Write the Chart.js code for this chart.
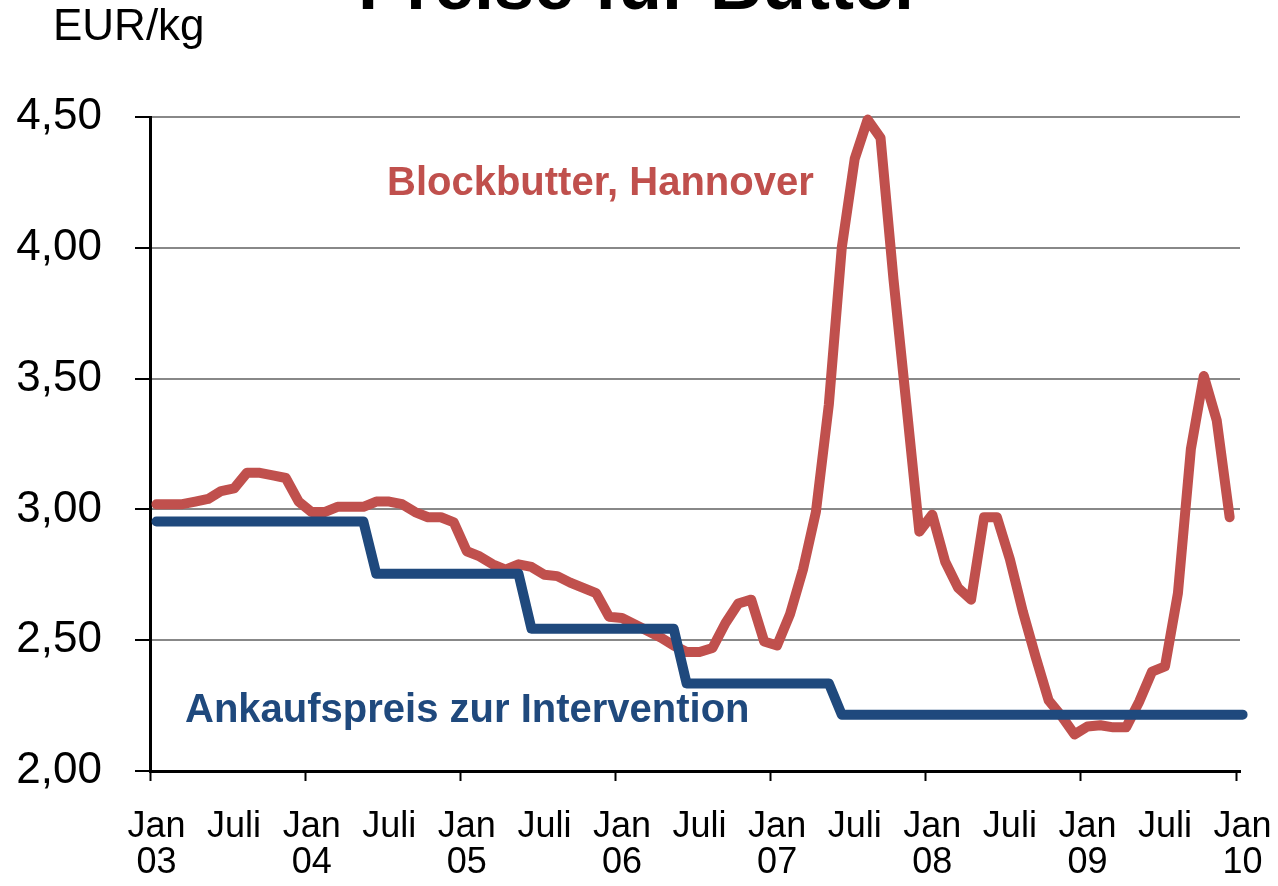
<!DOCTYPE html>
<html>
<head>
<meta charset="utf-8">
<title>Preise für Butter</title>
<script src="https://cdn.jsdelivr.net/npm/chart.js@4/dist/chart.umd.min.js"></script>
<style>
  body { margin: 0; background: #fff; }
  #wrap { width: 1278px; height: 886px; }
</style>
</head>
<body>
<div id="wrap"><canvas id="butterChart" width="1278" height="886"></canvas></div>
<script>
// monthly prices, Jan 03 .. Dec 09 (EUR/kg)
var blockbutter = [
  3.02, 3.02, 3.02, 3.03, 3.04, 3.07, 3.08, 3.14, 3.14, 3.13, 3.12, 3.03,
  2.99, 2.99, 3.01, 3.01, 3.01, 3.03, 3.03, 3.02, 2.99, 2.97, 2.97, 2.95,
  2.84, 2.82, 2.79, 2.77, 2.79, 2.78, 2.75, 2.745, 2.72, 2.70, 2.68, 2.59,
  2.585, 2.56, 2.535, 2.51, 2.48, 2.455, 2.455, 2.47, 2.565, 2.64, 2.655, 2.495,
  2.48, 2.60, 2.77, 2.99, 3.40, 4.00, 4.34, 4.49, 4.42, 3.88, 3.40, 2.915,
  2.98, 2.80, 2.70, 2.655, 2.97, 2.97, 2.81, 2.61, 2.435, 2.27, 2.21, 2.14,
  2.17, 2.175, 2.167, 2.167, 2.265, 2.38, 2.40, 2.68, 3.23, 3.51, 3.34, 2.97
];
// Jan 03 .. Jan 10
var intervention = [
  2.9537, 2.9537, 2.9537, 2.9537, 2.9537, 2.9537, 2.9537, 2.9537, 2.9537, 2.9537, 2.9537, 2.9537,
  2.9537, 2.9537, 2.9537, 2.9537, 2.9537, 2.7537, 2.7537, 2.7537, 2.7537, 2.7537, 2.7537, 2.7537,
  2.7537, 2.7537, 2.7537, 2.7537, 2.7537, 2.5442, 2.5442, 2.5442, 2.5442, 2.5442, 2.5442, 2.5442,
  2.5442, 2.5442, 2.5442, 2.5442, 2.5442, 2.3348, 2.3348, 2.3348, 2.3348, 2.3348, 2.3348, 2.3348,
  2.3348, 2.3348, 2.3348, 2.3348, 2.3348, 2.2155, 2.2155, 2.2155, 2.2155, 2.2155, 2.2155, 2.2155,
  2.2155, 2.2155, 2.2155, 2.2155, 2.2155, 2.2155, 2.2155, 2.2155, 2.2155, 2.2155, 2.2155, 2.2155,
  2.2155, 2.2155, 2.2155, 2.2155, 2.2155, 2.2155, 2.2155, 2.2155, 2.2155, 2.2155, 2.2155, 2.2155,
  2.2155
];
// one label every 6 months
var xTickLabels = [
  ["Jan", "03"], ["Juli", ""], ["Jan", "04"], ["Juli", ""], ["Jan", "05"], ["Juli", ""],
  ["Jan", "06"], ["Juli", ""], ["Jan", "07"], ["Juli", ""], ["Jan", "08"], ["Juli", ""],
  ["Jan", "09"], ["Juli", ""], ["Jan", "10"]
];

var RED = '#C0504D';
var BLUE = '#1F497D';

function toPoints(values) {
  // each monthly value sits in the middle of its month
  return values.map(function(v, i) { return { x: i + 0.5, y: v }; });
}

// title, unit and series names
var textPlugin = {
  id: 'texts',
  afterDraw: function(chart) {
    var c = chart.ctx;
    c.save();
    c.textBaseline = 'alphabetic';
    c.fillStyle = '#000';
    c.font = 'bold 72px "Liberation Sans", Arial, sans-serif';
    c.textAlign = 'center';
    c.fillText('Preise für Butter', 640, 9);
    c.textAlign = 'left';
    c.font = '44px "Liberation Sans", Arial, sans-serif';
    c.fillText('EUR/kg', 53, 40);
    c.font = 'bold 40px "Liberation Sans", Arial, sans-serif';
    c.fillStyle = RED;
    c.fillText('Blockbutter, Hannover', 387, 195);
    c.fillStyle = BLUE;
    c.fillText('Ankaufspreis zur Intervention', 185, 722);
    c.restore();
  }
};

Chart.defaults.font.family = '"Liberation Sans", Arial, sans-serif';
Chart.defaults.color = '#000';

var ctx = document.getElementById('butterChart');
var butterChart = new Chart(ctx, {
  type: 'line',
  data: {
    datasets: [
      {
        label: 'Ankaufspreis zur Intervention',
        data: toPoints(intervention),
        borderColor: BLUE,
        borderWidth: 10,
        borderJoinStyle: 'round',
        borderCapStyle: 'round',
        pointRadius: 0,
        tension: 0,
        clip: false
      },
      {
        label: 'Blockbutter, Hannover',
        data: toPoints(blockbutter),
        borderColor: RED,
        borderWidth: 10,
        borderJoinStyle: 'round',
        borderCapStyle: 'round',
        pointRadius: 0,
        tension: 0,
        clip: false
      }
    ]
  },
  options: {
    responsive: false,
    animation: false,
    layout: { padding: { top: 117, right: 38, left: 0, bottom: 0 } },
    plugins: {
      legend: { display: false },
      tooltip: { enabled: false }
    },
    scales: {
      x: {
        type: 'linear',
        min: 0,
        max: 84.3,
        afterFit: function(scale) {
          scale.height = 115;
          scale.paddingLeft = 0;
          scale.paddingRight = 0;
        },
        border: { color: '#000', width: 3 },
        grid: {
          drawOnChartArea: false,
          tickLength: 10,
          tickWidth: 2,
          tickColor: function(c) {
            return c.tick && c.tick.value % 12 === 0 ? '#000' : 'rgba(0,0,0,0)';
          }
        },
        ticks: {
          stepSize: 6,
          includeBounds: false,
          autoSkip: false,
          maxRotation: 0,
          padding: 28,
          labelOffset: 6.5,
          font: { size: 36, lineHeight: 1.0 },
          callback: function(v) { return xTickLabels[Math.round(v / 6)]; }
        }
      },
      y: {
        min: 2,
        max: 4.5,
        afterFit: function(scale) { scale.width = 150; },
        border: { color: '#000', width: 3 },
        grid: {
          color: '#888888',
          lineWidth: 2,
          tickLength: 15,
          tickColor: '#000',
          tickWidth: 2
        },
        ticks: {
          stepSize: 0.5,
          padding: 33,
          font: { size: 44 },
          callback: function(v) { return v.toFixed(2).replace('.', ','); }
        }
      }
    }
  },
  plugins: [textPlugin]
});
</script>
</body>
</html>
